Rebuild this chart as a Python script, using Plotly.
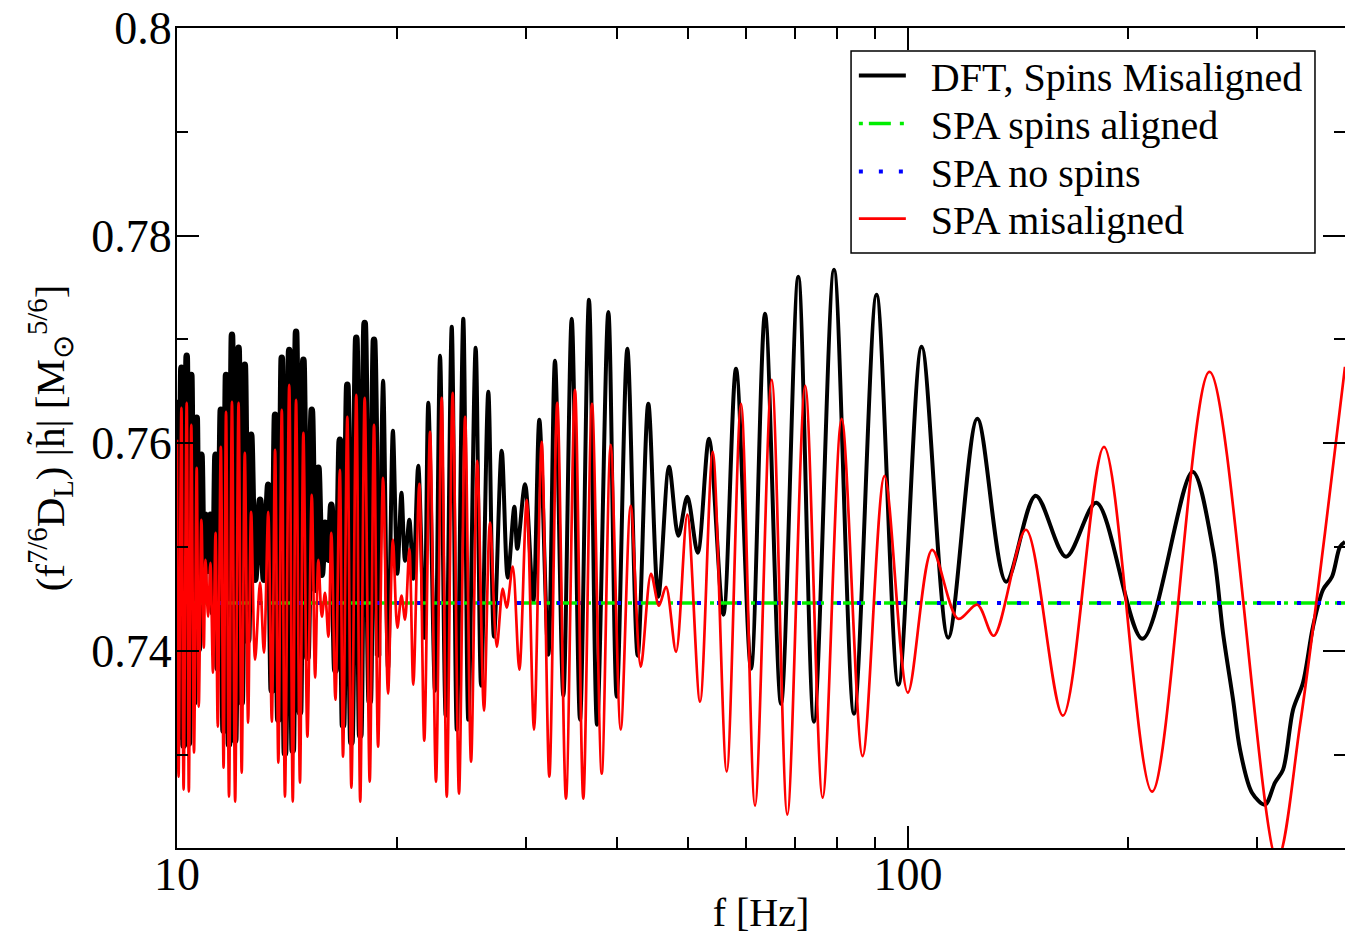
import math
import plotly.graph_objects as go

# ---------------- data ----------------
dft_f = [10.00, 10.05, 10.14, 10.21, 10.31, 10.38, 10.46, 10.55, 10.64, 10.71,
         10.80, 10.88, 10.94, 11.03, 11.11, 11.20, 11.29, 11.37, 11.48, 11.58,
         11.67, 11.78, 11.89, 12.01, 12.14, 12.26, 12.38, 12.51, 12.63, 12.79,
         12.99, 13.15, 13.33, 13.48, 13.62, 13.76, 13.91, 14.05, 14.24, 14.40,
         14.55, 14.73, 14.89, 15.08, 15.29, 15.45, 15.61, 15.78, 15.94, 16.11,
         16.26, 16.47, 16.70, 16.87, 17.10, 17.32, 17.59, 17.81, 18.06, 18.35,
         18.60, 18.84, 19.14, 19.44, 19.74, 20.02, 20.28, 20.51, 20.79, 21.05,
         21.38, 21.79, 22.07, 22.54, 22.90, 23.31, 23.76, 24.14, 24.64, 25.03,
         25.62, 26.06, 26.66, 27.14, 27.81, 28.34, 28.94, 29.21, 29.93, 30.72,
         31.31, 32.21, 32.89, 33.77, 34.67, 35.59, 36.61, 37.55, 38.91, 39.95,
         41.31, 42.68, 44.13, 45.54, 47.11, 48.51, 49.90, 51.56, 53.43, 55.89,
         58.17, 60.99, 63.74, 67.03, 70.78, 74.37, 79.21, 84.36, 90.56, 97.03,
         104.4, 113.5, 124.4, 136.2, 149.5, 164.5, 181.0, 209.3, 245.0, 261.4,
         269.7, 278.4, 284.6, 295.5, 307.9, 317.7, 325.9, 336.3, 347.0, 358.1,
         369.6, 380.2, 389.9, 396.1]
dft_amp = [0.76418, 0.73173, 0.76726, 0.73086, 0.76842, 0.73105, 0.76658, 0.73500, 0.76245, 0.74011,
           0.75888, 0.74559, 0.75311, 0.74771, 0.75311, 0.74367, 0.75888, 0.73828, 0.76321, 0.73230,
           0.76658, 0.73096, 0.77044, 0.73134, 0.76919, 0.73500, 0.76755, 0.74097, 0.76081, 0.74685,
           0.75455, 0.74685, 0.75599, 0.73616, 0.76274, 0.73336, 0.76823, 0.73009, 0.76899, 0.73038,
           0.77073, 0.73404, 0.76803, 0.73933, 0.76321, 0.74588, 0.75763, 0.74733, 0.75234, 0.74877,
           0.75407, 0.73808, 0.76033, 0.73279, 0.76562, 0.73115, 0.77015, 0.73182, 0.77159, 0.73510,
           0.76996, 0.73953, 0.76601, 0.73828, 0.76119, 0.74742, 0.75522, 0.74867, 0.75262, 0.74694,
           0.75783, 0.74126, 0.76389, 0.73616, 0.76842, 0.73375, 0.77121, 0.73240, 0.77198, 0.73336,
           0.76919, 0.73664, 0.76495, 0.74136, 0.75927, 0.74704, 0.75388, 0.74983, 0.75605, 0.74482,
           0.76226, 0.73962, 0.76794, 0.73568, 0.77198, 0.73336, 0.77381, 0.73288, 0.77265, 0.73558,
           0.76909, 0.73953, 0.76380, 0.74521, 0.75772, 0.75108, 0.75484, 0.74944, 0.76042, 0.74347,
           0.76716, 0.73828, 0.77246, 0.73490, 0.77603, 0.73317, 0.77670, 0.73394, 0.77429, 0.73673,
           0.76928, 0.74126, 0.76235, 0.74665, 0.75494, 0.74906, 0.75426, 0.74116, 0.75725, 0.74973,
           0.74174, 0.73529, 0.73048, 0.72633, 0.72518, 0.72730, 0.72855, 0.73433, 0.73693, 0.74232,
           0.74588, 0.74713, 0.75002, 0.75050]

spa_mis_f = [10.00, 10.05, 10.14, 10.21, 10.31, 10.38, 10.46, 10.55, 10.64, 10.71,
             10.80, 10.88, 10.94, 11.03, 11.11, 11.20, 11.29, 11.37, 11.48, 11.58,
             11.67, 11.78, 11.89, 12.01, 12.14, 12.26, 12.38, 12.51, 12.63, 12.79,
             12.99, 13.15, 13.33, 13.48, 13.62, 13.76, 13.91, 14.05, 14.24, 14.40,
             14.55, 14.73, 14.89, 15.08, 15.29, 15.45, 15.61, 15.78, 15.94, 16.11,
             16.26, 16.47, 16.70, 16.87, 17.10, 17.32, 17.59, 17.81, 18.06, 18.35,
             18.60, 18.84, 19.14, 19.44, 19.74, 20.02, 20.28, 20.51, 20.79, 21.05,
             21.45, 21.79, 22.19, 22.61, 23.02, 23.39, 23.83, 24.31, 24.78, 25.25,
             25.75, 26.30, 26.80, 27.38, 27.90, 28.25, 28.79, 29.40, 30.09, 30.79,
             31.54, 32.31, 33.13, 34.05, 35.03, 35.96, 36.96, 38.11, 39.20, 40.46,
             41.75, 43.09, 44.51, 45.64, 46.66, 48.16, 49.90, 51.94, 54.06, 56.49,
             59.10, 61.76, 65.10, 68.38, 72.34, 76.42, 81.15, 86.68, 92.87, 99.94,
             107.9, 117.1, 124.4, 131.0, 145.0, 162.9, 185.4, 215.7, 258.5, 319.8,
             343.8, 371.9, 396.1]
spa_mis_amp = [0.76033, 0.72787, 0.76341, 0.72662, 0.76389, 0.72643, 0.76177, 0.73019, 0.75763, 0.73462,
               0.75262, 0.74030, 0.74877, 0.74328, 0.74848, 0.73789, 0.75137, 0.73269, 0.75965, 0.72874,
               0.76302, 0.72595, 0.76399, 0.72547, 0.76389, 0.72826, 0.75908, 0.73308, 0.75339, 0.73914,
               0.74656, 0.73982, 0.75339, 0.73317, 0.75936, 0.72923, 0.76321, 0.72595, 0.76562, 0.72547,
               0.76418, 0.72730, 0.76100, 0.73173, 0.75503, 0.73742, 0.74877, 0.74328, 0.74559, 0.74136,
               0.75137, 0.73529, 0.75744, 0.72980, 0.76254, 0.72682, 0.76466, 0.72547, 0.76437, 0.72739,
               0.76177, 0.73076, 0.75667, 0.73587, 0.75070, 0.74222, 0.74531, 0.74299, 0.74983, 0.73673,
               0.75609, 0.73134, 0.76110, 0.72739, 0.76437, 0.72595, 0.76485, 0.72624, 0.76254, 0.72932,
               0.75829, 0.73423, 0.75234, 0.74039, 0.74598, 0.74415, 0.74810, 0.73818, 0.75455, 0.73240,
               0.76013, 0.72787, 0.76389, 0.72576, 0.76514, 0.72576, 0.76380, 0.72816, 0.75985, 0.73240,
               0.75397, 0.73847, 0.74742, 0.74434, 0.74617, 0.73991, 0.75311, 0.73509, 0.75917, 0.72836,
               0.76380, 0.72508, 0.76611, 0.72422, 0.76553, 0.72585, 0.76235, 0.72986, 0.75686, 0.73596,
               0.74973, 0.74309, 0.74444, 0.74145, 0.75166, 0.73375, 0.75965, 0.72643, 0.76688, 0.71989,
               0.73288, 0.75137, 0.76736]

spa_flat_f = [10.0, 396.1]
spa_aligned_amp = [0.7446, 0.7446]
spa_nospin_amp = [0.7446, 0.7446]

series_names = ["DFT, Spins Misaligned", "SPA spins aligned", "SPA no spins", "SPA misaligned"]

x_range_hz = [10.0, 396.1]
y_range = [0.721, 0.8]
y_major = [0.74, 0.76, 0.78, 0.8]
y_major_text = ["0.74", "0.76", "0.78", "0.8"]
y_minor = [0.73, 0.75, 0.77, 0.79]
x_major = [10, 100]
x_major_text = ["10", "100"]
x_minor = [20, 30, 40, 50, 60, 70, 80, 90, 200, 300]

# the densely oscillating low-frequency part of the DFT curve is drawn with a
# heavier stroke (it renders as a solid band in the reference)
dense_limit_hz = 18.7

# ---------------- figure ----------------
FONT = "Liberation Serif"
fig = go.Figure()

k = next(i for i, f in enumerate(dft_f) if f > dense_limit_hz)
fig.add_trace(go.Scatter(x=dft_f[:k + 1], y=dft_amp[:k + 1], mode="lines",
                         name="\u2002" + series_names[0], legend="legend", legendgroup="dft",
                         showlegend=False,
                         line=dict(color="black", width=6.5, shape="spline", smoothing=0.9)))
fig.add_trace(go.Scatter(x=dft_f[k - 1:], y=dft_amp[k - 1:], mode="lines",
                         name="\u2002" + series_names[0], legend="legend", legendgroup="dft",
                         line=dict(color="black", width=4, shape="spline", smoothing=0.9)))
fig.add_trace(go.Scatter(x=spa_flat_f, y=spa_aligned_amp, mode="lines",
                         name="\u2002" + series_names[1], legend="legend2",
                         line=dict(color="#00ee00", width=3.5, dash="4px,6px,22px,9px")))
fig.add_trace(go.Scatter(x=spa_flat_f, y=spa_nospin_amp, mode="lines",
                         name="\u2002" + series_names[2], legend="legend3",
                         line=dict(color="#0000ff", width=4, dash="4px,16px")))
fig.add_trace(go.Scatter(x=spa_mis_f, y=spa_mis_amp, mode="lines",
                         name="\u2002" + series_names[3], legend="legend4",
                         line=dict(color="#ff0000", width=2.7, shape="spline", smoothing=0.9)))
# helper trace so the right-hand tick axis is drawn
fig.add_trace(go.Scatter(x=[x_range_hz[0]], y=[None], yaxis="y2", showlegend=False,
                         hoverinfo="skip", mode="lines"))

tick_font = dict(family=FONT, size=46, color="black")
leg_font = dict(family=FONT, size=40, color="black")


def leg(ypos):
    return dict(x=0.5795, y=ypos, xanchor="left", yanchor="middle",
                bgcolor="rgba(0,0,0,0)", borderwidth=0, font=leg_font,
                itemwidth=47, tracegroupgap=0)


fig.update_layout(
    width=1345, height=935,
    margin=dict(l=177, r=0, t=28, b=87),
    paper_bgcolor="white", plot_bgcolor="white",
    font=dict(family=FONT, color="black"),
    showlegend=True,
    legend=leg(0.942),
    legend2=leg(0.8835),
    legend3=leg(0.825),
    legend4=leg(0.7676),
    shapes=[dict(type="rect", xref="paper", yref="paper", x0=0.5771, x1=0.9743,
                 y0=0.7256, y1=0.9720, line=dict(color="black", width=1.5),
                 fillcolor="white", layer="above")],
    xaxis=dict(type="log", range=[math.log10(x_range_hz[0]), math.log10(x_range_hz[1])],
               automargin=False,
               showline=True, linecolor="black", linewidth=2, mirror="ticks",
               showgrid=False, zeroline=False,
               ticks="inside", ticklen=22, tickwidth=2, tickcolor="black",
               tickmode="array", tickvals=x_major, ticktext=x_major_text,
               tickfont=tick_font, ticklabelstandoff=-15, ticklabeloverflow="allow",
               minor=dict(ticks="inside", ticklen=11, tickwidth=2, tickcolor="black",
                          tickmode="array", tickvals=x_minor, showgrid=False),
               title=dict(text="f [Hz]", font=dict(family=FONT, size=40, color="black"),
                          standoff=6)),
    yaxis=dict(range=y_range, automargin=False,
               showline=True, linecolor="black", linewidth=2, mirror=False,
               showgrid=False, zeroline=False,
               ticks="inside", ticklen=22, tickwidth=2, tickcolor="black",
               tickmode="array", tickvals=y_major, ticktext=y_major_text,
               tickfont=tick_font, ticklabelstandoff=-6, ticklabeloverflow="allow",
               minor=dict(ticks="inside", ticklen=11, tickwidth=2, tickcolor="black",
                          tickmode="array", tickvals=y_minor, showgrid=False),
               title=dict(text="(f<sup>7/6</sup>D<sub>L</sub>) |h\u0303| [M<sub>\u2299</sub><sup>5/6</sup>]",
                          font=dict(family=FONT, size=41, color="black"), standoff=14)),
    yaxis2=dict(range=y_range, overlaying="y", side="right", showline=False, automargin=False,
                showgrid=False, zeroline=False, showticklabels=False,
                ticks="inside", ticklen=22, tickwidth=2, tickcolor="black",
                tickmode="array", tickvals=y_major,
                minor=dict(ticks="inside", ticklen=11, tickwidth=2, tickcolor="black",
                           tickmode="array", tickvals=y_minor, showgrid=False)),
)

# let the figure fill the 1345x935 window exactly (no default page margin), no modebar
fig.write_html("out.html", config={"displayModeBar": False},
               post_script="document.body.style.margin='0';document.body.style.overflow='hidden';")
